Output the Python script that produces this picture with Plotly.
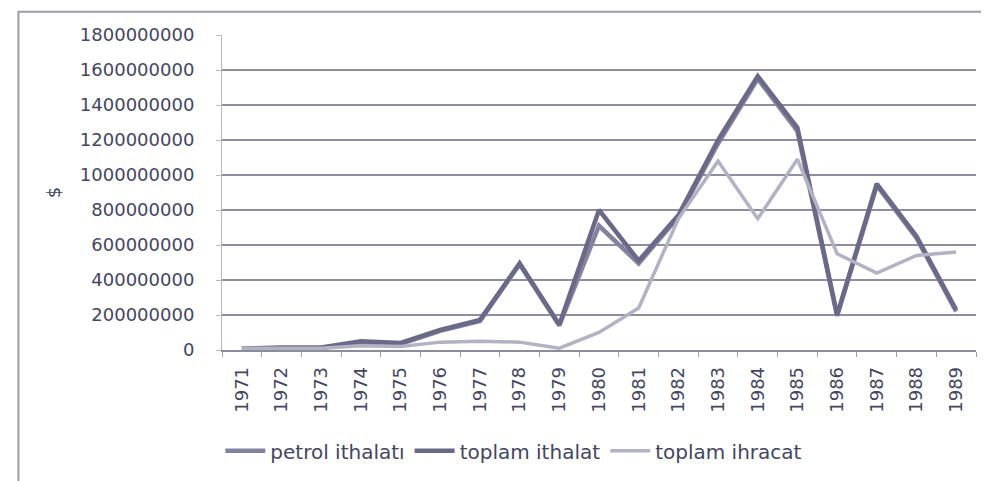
import plotly.graph_objects as go

years = ["1971", "1972", "1973", "1974", "1975", "1976", "1977", "1978", "1979", "1980",
         "1981", "1982", "1983", "1984", "1985", "1986", "1987", "1988", "1989"]

petrol_ithalati = [5e6, 1.0e7, 1.0e7, 4.5e7, 3.5e7, 1.10e8, 1.65e8, 4.90e8, 1.40e8, 7.10e8,
                   4.95e8, 7.60e8, 1.18e9, 1.55e9, 1.25e9, 1.95e8, 9.40e8, 6.40e8, 2.20e8]
toplam_ithalat = [8e6, 1.5e7, 1.5e7, 5.0e7, 4.0e7, 1.15e8, 1.72e8, 4.95e8, 1.45e8, 8.00e8,
                  5.10e8, 7.70e8, 1.20e9, 1.565e9, 1.27e9, 2.00e8, 9.50e8, 6.50e8, 2.30e8]
toplam_ihracat = [1.0e7, 1.0e7, 1.0e7, 2.5e7, 2.0e7, 4.5e7, 5.0e7, 4.5e7, 1.0e7, 1.00e8,
                  2.40e8, 7.50e8, 1.08e9, 7.50e8, 1.09e9, 5.50e8, 4.40e8, 5.40e8, 5.60e8]

y_ticks = [0, 200000000, 400000000, 600000000, 800000000, 1000000000,
           1200000000, 1400000000, 1600000000, 1800000000]

FONT = "DejaVu Sans"
TXT = "#454560"

fig = go.Figure()
fig.add_trace(go.Scatter(x=years, y=petrol_ithalati, mode="lines", name="petrol ithalatı",
                         line=dict(color="#83839f", width=4.5)))
fig.add_trace(go.Scatter(x=years, y=toplam_ithalat, mode="lines", name="toplam ithalat",
                         line=dict(color="#6a6a88", width=4.5)))
fig.add_trace(go.Scatter(x=years, y=toplam_ihracat, mode="lines", name="toplam ihracat",
                         line=dict(color="#b2b2c4", width=3.5)))

fig.update_layout(
    width=989, height=481,
    margin=dict(l=214, r=21, t=27, b=139, autoexpand=False),
    paper_bgcolor="white", plot_bgcolor="white",
    font=dict(family=FONT, size=18, color=TXT),
    showlegend=True,
    legend=dict(orientation="h", x=0.387, xanchor="center", y=-0.32, yanchor="middle",
                font=dict(size=20, color=TXT), itemwidth=40, tracegroupgap=0),
    shapes=[dict(type="rect", xref="paper", yref="paper",
                 x0=-0.27, x1=1.021, y0=-0.42, y1=1.074,
                 line=dict(color="#9c9cac", width=2), fillcolor="rgba(0,0,0,0)", layer="above")],
)

fig.update_xaxes(
    type="category", categoryorder="array", categoryarray=years,
    range=[-0.5, len(years) - 0.5], automargin=False,
    tickangle=-90, tickfont=dict(size=18, color=TXT),
    showgrid=False, showline=True, linecolor="#8c8c9c", linewidth=1.5,
    ticks="outside", tickson="boundaries", ticklen=5, tickcolor="#a0a0ac",
    ticklabelstandoff=8, zeroline=False,
)

fig.update_yaxes(
    range=[0, 1800000000], tickvals=y_ticks, tickformat="d", automargin=False,
    tickfont=dict(size=18, color=TXT),
    showgrid=True, gridcolor="#8e8e9e", gridwidth=1.5,
    showline=True, linecolor="#b8b8c4", linewidth=1,
    ticks="outside", ticklen=5, tickcolor="#b8b8c4",
    ticklabelstandoff=18, zeroline=False,
    title=dict(text="$", font=dict(size=18, color=TXT), standoff=14),
)

fig.write_html("out.html")
